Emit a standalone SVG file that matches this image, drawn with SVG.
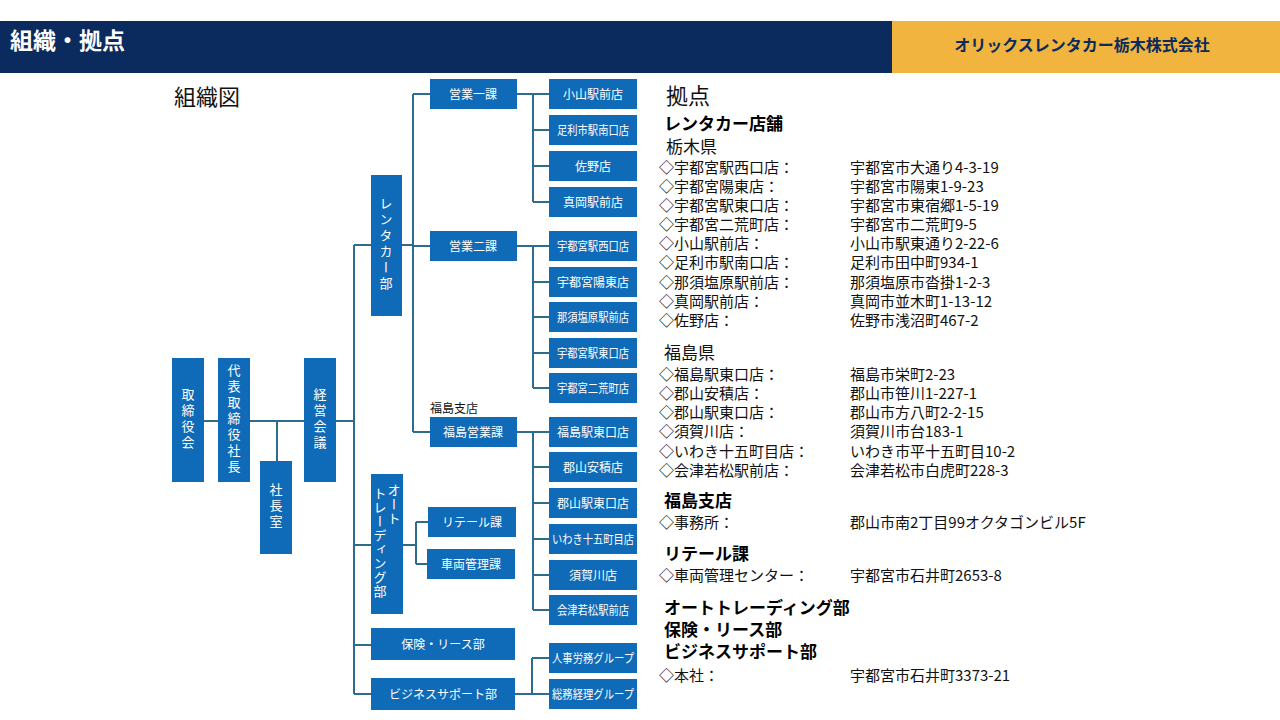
<svg xmlns="http://www.w3.org/2000/svg" width="1280" height="720" viewBox="0 0 1280 720">
<style>
text{font-family:"Noto Sans CJK JP","Noto Sans",sans-serif}
.b{fill:#0f6bb8}
.t{fill:#fff;font-size:12px;text-anchor:middle}
.v{fill:#fff;font-size:13px;writing-mode:vertical-rl;text-anchor:middle;letter-spacing:3px}
.c{fill:none;stroke:#2d6c8c;stroke-width:2}
.h{font-size:17px;font-weight:bold;fill:#000}
.p{font-size:15px;fill:#111}
.a{font-size:15px;fill:#111}
</style>
<rect width="1280" height="720" fill="#fff"/>
<rect x="0" y="21" width="892" height="52" fill="#0b2b5e"/>
<rect x="892" y="21" width="388" height="52" fill="#f1b43f"/>
<text x="10" y="49" font-size="23" font-weight="bold" fill="#fff">組織・拠点</text>
<text x="1082" y="51" font-size="16" font-weight="bold" fill="#0b2b5e" text-anchor="middle">オリックスレンタカー栃木株式会社</text>
<text x="174" y="105" font-size="22" fill="#111">組織図</text>

<g id="connectors" class="c">
<path d="M204 421H218M250 421H304M277 421V461M336 421H354M354 245V694M354 245H371M402 245H413M413 94V432M413 94H430M413 246H430M413 432H430"/>
<path d="M517 94H549M533 94V202M533 130H549M533 166H549M533 202H549"/>
<path d="M517 246H549M533 246V388M533 282H549M533 317H549M533 353H549M533 388H549"/>
<path d="M517 432H549M533 432V610M533 467H549M533 503H549M533 539H549M533 575H549M533 610H549"/>
<path d="M354 545H371M403 545H416M416 522V564M416 522H428M416 564H427M354 645H371M354 694H371M515 694H549M532 658V694M532 658H549"/>
</g>

<g id="n-torishimari"><rect class="b" x="172" y="358" width="32" height="124"/><text class="v" x="188" y="420">取締役会</text></g>
<g id="n-daihyo"><rect class="b" x="218" y="358" width="32" height="124"/><text class="v" x="234" y="420">代表取締役社長</text></g>
<g id="n-shachoshitsu"><rect class="b" x="260" y="461" width="32" height="93"/><text class="v" x="276" y="507">社長室</text></g>
<g id="n-keiei"><rect class="b" x="304" y="358" width="32" height="124"/><text class="v" x="320" y="420">経営会議</text></g>
<g id="n-rentacar"><rect class="b" x="371" y="175" width="31" height="141"/><text class="v" x="386" y="245">レンタカー部</text></g>
<g id="n-auto"><rect class="b" x="371" y="474" width="32" height="140"/><text class="v" x="394" y="505" style="letter-spacing:1px">オート</text><text class="v" x="380" y="543" style="letter-spacing:1px">トレーディング部</text></g>
<g id="n-hoken"><rect class="b" x="371" y="628" width="144" height="32"/><text class="t" x="443" y="649">保険・リース部</text></g>
<g id="n-business"><rect class="b" x="371" y="678" width="144" height="32"/><text class="t" x="443" y="699">ビジネスサポート部</text></g>
<g id="n-eigyo1"><rect class="b" x="430" y="79" width="87" height="30"/><text class="t" x="473" y="99">営業一課</text></g>
<g id="n-eigyo2"><rect class="b" x="430" y="231" width="87" height="30"/><text class="t" x="473" y="251">営業二課</text></g>
<text x="430" y="413" font-size="12" fill="#111">福島支店</text>
<g id="n-fukushima"><rect class="b" x="430" y="417" width="87" height="30"/><text class="t" x="473" y="437">福島営業課</text></g>
<g id="n-retail"><rect class="b" x="428" y="507" width="88" height="30"/><text class="t" x="472" y="527">リテール課</text></g>
<g id="n-sharyo"><rect class="b" x="427" y="549" width="88" height="30"/><text class="t" x="471" y="569">車両管理課</text></g>

<g id="n-s1"><rect class="b" x="549" y="79" width="88" height="30"/><text class="t" x="593" y="99">小山駅前店</text></g>
<g id="n-s2"><rect class="b" x="549" y="115" width="88" height="30"/><text class="t" x="593" y="135" textLength="72" lengthAdjust="spacingAndGlyphs">足利市駅南口店</text></g>
<g id="n-s3"><rect class="b" x="549" y="151" width="88" height="30"/><text class="t" x="593" y="171">佐野店</text></g>
<g id="n-s4"><rect class="b" x="549" y="187" width="88" height="30"/><text class="t" x="593" y="207">真岡駅前店</text></g>
<g id="n-s5"><rect class="b" x="549" y="231" width="88" height="30"/><text class="t" x="593" y="251" textLength="72" lengthAdjust="spacingAndGlyphs">宇都宮駅西口店</text></g>
<g id="n-s6"><rect class="b" x="549" y="267" width="88" height="30"/><text class="t" x="593" y="287">宇都宮陽東店</text></g>
<g id="n-s7"><rect class="b" x="549" y="302" width="88" height="30"/><text class="t" x="593" y="322" textLength="72" lengthAdjust="spacingAndGlyphs">那須塩原駅前店</text></g>
<g id="n-s8"><rect class="b" x="549" y="338" width="88" height="30"/><text class="t" x="593" y="358" textLength="72" lengthAdjust="spacingAndGlyphs">宇都宮駅東口店</text></g>
<g id="n-s9"><rect class="b" x="549" y="373" width="88" height="30"/><text class="t" x="593" y="393" textLength="72" lengthAdjust="spacingAndGlyphs">宇都宮二荒町店</text></g>
<g id="n-s10"><rect class="b" x="549" y="417" width="88" height="30"/><text class="t" x="593" y="437">福島駅東口店</text></g>
<g id="n-s11"><rect class="b" x="549" y="452" width="88" height="30"/><text class="t" x="593" y="472">郡山安積店</text></g>
<g id="n-s12"><rect class="b" x="549" y="488" width="88" height="30"/><text class="t" x="593" y="508">郡山駅東口店</text></g>
<g id="n-s13"><rect class="b" x="549" y="524" width="88" height="30"/><text class="t" x="593" y="544" textLength="82" lengthAdjust="spacingAndGlyphs">いわき十五町目店</text></g>
<g id="n-s14"><rect class="b" x="549" y="560" width="88" height="30"/><text class="t" x="593" y="580">須賀川店</text></g>
<g id="n-s15"><rect class="b" x="549" y="595" width="88" height="30"/><text class="t" x="593" y="615" textLength="72" lengthAdjust="spacingAndGlyphs">会津若松駅前店</text></g>
<g id="n-g1"><rect class="b" x="549" y="643" width="88" height="30"/><text class="t" x="593" y="663" textLength="82" lengthAdjust="spacingAndGlyphs">人事労務グループ</text></g>
<g id="n-g2"><rect class="b" x="549" y="679" width="88" height="30"/><text class="t" x="593" y="699" textLength="82" lengthAdjust="spacingAndGlyphs">総務経理グループ</text></g>

<g id="bases">
<text x="666" y="104" font-size="22" fill="#111">拠点</text>
<text class="h" x="664" y="130">レンタカー店舗</text>
<text x="666" y="153" font-size="17" fill="#111">栃木県</text>
<text class="p" x="659" y="173">◇宇都宮駅西口店：</text><text class="a" x="850" y="173">宇都宮市大通り4-3-19</text>
<text class="p" x="659" y="192">◇宇都宮陽東店：</text><text class="a" x="850" y="192">宇都宮市陽東1-9-23</text>
<text class="p" x="659" y="211">◇宇都宮駅東口店：</text><text class="a" x="850" y="211">宇都宮市東宿郷1-5-19</text>
<text class="p" x="659" y="230">◇宇都宮二荒町店：</text><text class="a" x="850" y="230">宇都宮市二荒町9-5</text>
<text class="p" x="659" y="249">◇小山駅前店：</text><text class="a" x="850" y="249">小山市駅東通り2-22-6</text>
<text class="p" x="659" y="268">◇足利市駅南口店：</text><text class="a" x="850" y="268">足利市田中町934-1</text>
<text class="p" x="659" y="288">◇那須塩原駅前店：</text><text class="a" x="850" y="288">那須塩原市沓掛1-2-3</text>
<text class="p" x="659" y="307">◇真岡駅前店：</text><text class="a" x="850" y="307">真岡市並木町1-13-12</text>
<text class="p" x="659" y="326">◇佐野店：</text><text class="a" x="850" y="326">佐野市浅沼町467-2</text>
<text x="664" y="359" font-size="17" fill="#111">福島県</text>
<text class="p" x="659" y="380">◇福島駅東口店：</text><text class="a" x="850" y="380">福島市栄町2-23</text>
<text class="p" x="659" y="399">◇郡山安積店：</text><text class="a" x="850" y="399">郡山市笹川1-227-1</text>
<text class="p" x="659" y="418">◇郡山駅東口店：</text><text class="a" x="850" y="418">郡山市方八町2-2-15</text>
<text class="p" x="659" y="437">◇須賀川店：</text><text class="a" x="850" y="437">須賀川市台183-1</text>
<text class="p" x="659" y="457">◇いわき十五町目店：</text><text class="a" x="850" y="457">いわき市平十五町目10-2</text>
<text class="p" x="659" y="476">◇会津若松駅前店：</text><text class="a" x="850" y="476">会津若松市白虎町228-3</text>
<text class="h" x="664" y="507">福島支店</text>
<text class="p" x="659" y="528">◇事務所：</text><text class="a" x="850" y="528">郡山市南2丁目99オクタゴンビル5F</text>
<text class="h" x="664" y="560">リテール課</text>
<text class="p" x="659" y="581">◇車両管理センター：</text><text class="a" x="850" y="581">宇都宮市石井町2653-8</text>
<text class="h" x="664" y="614">オートトレーディング部</text>
<text class="h" x="664" y="636">保険・リース部</text>
<text class="h" x="664" y="658">ビジネスサポート部</text>
<text class="p" x="659" y="681">◇本社：</text><text class="a" x="850" y="681">宇都宮市石井町3373-21</text>
</g>
</svg>
